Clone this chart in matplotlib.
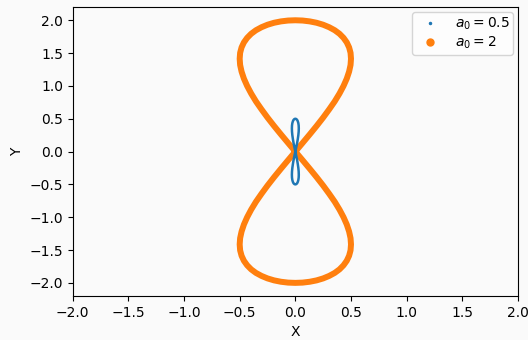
import matplotlib
matplotlib.use("Agg")
import matplotlib.pyplot as plt
from matplotlib.lines import Line2D

# Orange figure-eight (a0 = 2)
x_a2 = [0, 0.065, 0.129, 0.191, 0.25, 0.304, 0.354, 0.397, 0.433, 0.462, 0.483, 0.496, 0.5,
        0.496, 0.483, 0.462, 0.433, 0.397, 0.354, 0.304, 0.25, 0.191, 0.129, 0.065, 0,
        -0.065, -0.129, -0.191, -0.25, -0.304, -0.354, -0.397, -0.433, -0.462, -0.483, -0.496, -0.5,
        -0.496, -0.483, -0.462, -0.433, -0.397, -0.354, -0.304, -0.25, -0.191, -0.129, -0.065, 0,
        0.065, 0.129, 0.191, 0.25, 0.304, 0.354, 0.397, 0.433, 0.462, 0.483, 0.496, 0.5,
        0.496, 0.483, 0.462, 0.433, 0.397, 0.354, 0.304, 0.25, 0.191, 0.129, 0.065, 0,
        -0.065, -0.129, -0.191, -0.25, -0.304, -0.354, -0.397, -0.433, -0.462, -0.483, -0.496, -0.5,
        -0.496, -0.483, -0.462, -0.433, -0.397, -0.354, -0.304, -0.25, -0.191, -0.129, -0.065, 0]
y_a2 = [0, 0.131, 0.261, 0.390, 0.518, 0.643, 0.765, 0.885, 1.0, 1.111, 1.218, 1.319, 1.414,
        1.504, 1.587, 1.663, 1.732, 1.794, 1.848, 1.894, 1.932, 1.962, 1.983, 1.996, 2.0,
        1.996, 1.983, 1.962, 1.932, 1.894, 1.848, 1.794, 1.732, 1.663, 1.587, 1.504, 1.414,
        1.319, 1.218, 1.111, 1.0, 0.885, 0.765, 0.643, 0.518, 0.390, 0.261, 0.131, 0,
        -0.131, -0.261, -0.390, -0.518, -0.643, -0.765, -0.885, -1.0, -1.111, -1.218, -1.319, -1.414,
        -1.504, -1.587, -1.663, -1.732, -1.794, -1.848, -1.894, -1.932, -1.962, -1.983, -1.996, -2.0,
        -1.996, -1.983, -1.962, -1.932, -1.894, -1.848, -1.794, -1.732, -1.663, -1.587, -1.504, -1.414,
        -1.319, -1.218, -1.111, -1.0, -0.885, -0.765, -0.643, -0.518, -0.390, -0.261, -0.131, 0]

# Blue small figure-eight (a0 = 0.5)
x_a05 = [0, 0.008, 0.016, 0.022, 0.027, 0.030, 0.031, 0.030, 0.027, 0.022, 0.016, 0.008, 0,
         -0.008, -0.016, -0.022, -0.027, -0.030, -0.031, -0.030, -0.027, -0.022, -0.016, -0.008, 0,
         0.008, 0.016, 0.022, 0.027, 0.030, 0.031, 0.030, 0.027, 0.022, 0.016, 0.008, 0,
         -0.008, -0.016, -0.022, -0.027, -0.030, -0.031, -0.030, -0.027, -0.022, -0.016, -0.008, 0]
y_a05 = [0, 0.065, 0.129, 0.191, 0.25, 0.304, 0.354, 0.397, 0.433, 0.462, 0.483, 0.496, 0.5,
         0.496, 0.483, 0.462, 0.433, 0.397, 0.354, 0.304, 0.25, 0.191, 0.129, 0.065, 0,
         -0.065, -0.129, -0.191, -0.25, -0.304, -0.354, -0.397, -0.433, -0.462, -0.483, -0.496, -0.5,
         -0.496, -0.483, -0.462, -0.433, -0.397, -0.354, -0.304, -0.25, -0.191, -0.129, -0.065, 0]

labels = [r"$a_0 = 0.5$", r"$a_0 = 2$"]
colors = ["#1f77b4", "#ff7f0e"]

fig = plt.figure(figsize=(5.28, 3.40), dpi=100, facecolor="#fafafa")
ax = fig.add_axes([0.1377, 0.1294, 0.981 - 0.1377, 0.979 - 0.1294])
ax.set_facecolor("#fafafa")

ax.plot(x_a05, y_a05, "-", color=colors[0], lw=1.8, solid_capstyle="round",
        solid_joinstyle="round", zorder=3)
ax.plot(x_a2, y_a2, "-", color=colors[1], lw=4.3, solid_capstyle="round",
        solid_joinstyle="round", zorder=2)

ax.set_xlim(-2, 2)
ax.set_ylim(-2.2, 2.2)
ax.set_xticks([-2.0, -1.5, -1.0, -0.5, 0.0, 0.5, 1.0, 1.5, 2.0])
ax.set_yticks([-2.0, -1.5, -1.0, -0.5, 0.0, 0.5, 1.0, 1.5, 2.0])
ax.set_xlabel("X")
ax.set_ylabel("Y")

handles = [Line2D([], [], ls="none", marker="o", ms=1.5, color=colors[0]),
           Line2D([], [], ls="none", marker="o", ms=5, color=colors[1])]
ax.legend(handles, labels, loc="upper right", labelspacing=0.2, borderpad=0.25,
          borderaxespad=0.35)

fig.savefig("out.png", dpi=100, facecolor=fig.get_facecolor())
